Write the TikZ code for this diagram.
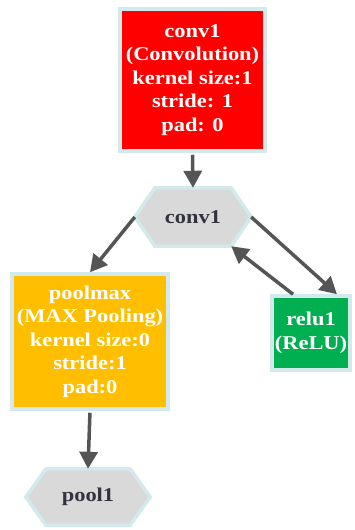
\documentclass[tikz,border=0pt]{standalone}
\usepackage{fontspec}
\setmainfont{Liberation Serif}[FakeStretch=1.15]
\usetikzlibrary{arrows.meta,backgrounds}
\definecolor{edgecyan}{HTML}{D2EAEC}
\definecolor{convred}{HTML}{FF0000}
\definecolor{poolamber}{HTML}{FFBF00}
\definecolor{relugreen}{HTML}{00B050}
\definecolor{blobgray}{HTML}{D9D9D9}
\definecolor{linkgray}{HTML}{555555}
\definecolor{blobtext}{HTML}{333340}
\begin{document}
\begin{tikzpicture}[x=1pt,y=-1pt,
  layer/.style={draw=edgecyan, line width=3.5pt, fill=#1, text=white,
    font=\bfseries\fontsize{19.5}{23.5}\selectfont, align=center, inner sep=0pt},
  blob/.style={inner sep=0pt, text=blobtext,
    font=\bfseries\fontsize{19.5}{23.5}\selectfont},
  hexline/.style={draw=edgecyan, line width=3.5pt, fill=blobgray, line join=miter},
  link/.style={draw=linkgray, line width=3.5pt, -{Triangle[length=17pt,width=18pt]}}]
\useasboundingbox (0,0) rectangle (355,530);

% layers
\node[layer=convred, minimum width=145pt, minimum height=142pt] (cv) at (192.5,80)
  {conv1\\(Convolution)\\kernel size:1\\stride: 1\\pad: 0};
\node[layer=poolamber, minimum width=156pt, minimum height=135pt] (pm) at (90,341.5)
  {poolmax\\(MAX Pooling)\\kernel size:0\\stride:1\\pad:0};
\node[layer=relugreen, minimum width=78pt, minimum height=74pt] (rl) at (311,333)
  {relu1\\(ReLU)};

% blobs
\node[blob, minimum width=116pt, minimum height=58pt] (c1) at (193,217) {conv1};
\node[blob, minimum width=124pt, minimum height=56pt] (p1) at (88,497) {pool1};

\begin{scope}[on background layer]
  \foreach \h in {c1,p1}{
    \draw[hexline] (\h.west) -- ([xshift=20pt]\h.north west) -- ([xshift=-20pt]\h.north east)
      -- (\h.east) -- ([xshift=-20pt]\h.south east) -- ([xshift=20pt]\h.south west) -- cycle;
  }
\end{scope}

% connections
\draw[link, shorten <=2pt] (cv.south) -- (c1.north);
\draw[link] (c1.west) -- (pm.north);
\draw[link] (c1.east) -- ([xshift=26pt]rl.north);
\draw[link] ([xshift=-18pt]rl.north) -- ([xshift=-20pt]c1.south east);
\draw[link, shorten <=2pt] (pm.south) -- (p1.north);
\end{tikzpicture}
\end{document}
